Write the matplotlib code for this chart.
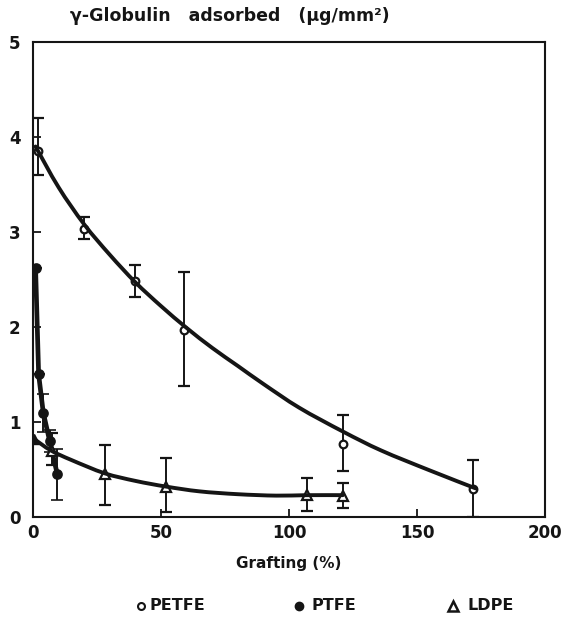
import matplotlib
matplotlib.use("Agg")
import matplotlib.pyplot as plt
from matplotlib.path import Path
from matplotlib.patches import PathPatch
import numpy as np

# PETFE (open circles)
petfe_x = [2, 20, 40, 59, 121, 172]
petfe_y = [3.85, 3.03, 2.48, 1.97, 0.77, 0.29]
petfe_lo = [3.6, 2.93, 2.32, 1.38, 0.48, 0.0]
petfe_hi = [4.2, 3.16, 2.65, 2.58, 1.07, 0.60]
# PETFE fitted curve
petfe_cx = [1, 10, 20, 30, 40, 50, 60, 70, 80, 90, 104, 121, 136, 155, 173]
petfe_cy = [3.90, 3.47, 3.08, 2.76, 2.47, 2.22, 1.99, 1.78, 1.59, 1.40, 1.15, 0.90, 0.70, 0.49, 0.30]

# PTFE (filled circles)
ptfe_x = [1, 2.2, 4, 6.5, 9.5]
ptfe_y = [2.62, 1.50, 1.10, 0.80, 0.45]
ptfe_lo = [2.62, 1.50, 0.90, 0.68, 0.18]
ptfe_hi = [2.62, 1.50, 1.30, 0.92, 0.72]

# LDPE (triangles)
ldpe_x = [0.5, 7.5, 28, 52, 107, 121]
ldpe_y = [0.82, 0.70, 0.45, 0.32, 0.23, 0.22]
ldpe_lo = [0.82, 0.55, 0.13, 0.05, 0.06, 0.10]
ldpe_hi = [0.82, 0.88, 0.76, 0.62, 0.41, 0.36]
ldpe_cx = [0.5, 7, 15, 28, 40, 52, 65, 80, 95, 107, 121]
ldpe_cy = [0.82, 0.70, 0.60, 0.46, 0.38, 0.32, 0.27, 0.24, 0.225, 0.23, 0.23]

x_ticks = [0, 50, 100, 150, 200]
y_ticks = [0, 1, 2, 3, 4, 5]

plt.rcParams['font.family'] = ['DejaVu Sans']
fig = plt.figure(figsize=(5.72, 6.22), dpi=100)
ax = fig.add_axes([0.0577, 0.1688, 0.8953, 0.7637])
ax.set_xlim(0, 200)
ax.set_ylim(0, 5)

k = '#151515'
lw_curve = 2.8


def smooth_curve(xs, ys, lw):
    # Catmull-Rom through the read knots, drawn as cubic Bezier segments in display space
    pts = ax.transData.transform(np.column_stack([xs, ys]))
    n = len(pts)
    verts = [pts[0]]
    codes = [Path.MOVETO]
    for i in range(n - 1):
        p0 = pts[i - 1] if i > 0 else pts[i]
        p1 = pts[i]
        p2 = pts[i + 1]
        p3 = pts[i + 2] if i + 2 < n else pts[i + 1]
        c1 = p1 + (p2 - p0) / 6.0
        c2 = p2 - (p3 - p1) / 6.0
        verts += [c1, c2, p2]
        codes += [Path.CURVE4] * 3
    path = Path(verts, codes)
    patch = PathPatch(path, fill=False, edgecolor=k, lw=lw, capstyle='round',
                      transform=None, zorder=3)
    fig.add_artist(patch)


smooth_curve(petfe_cx, petfe_cy, lw_curve)
smooth_curve(ldpe_cx, ldpe_cy, lw_curve)
ax.plot(ptfe_x, ptfe_y, color=k, lw=lw_curve + 0.6, solid_capstyle='round', zorder=3)


def ebars(xs, ys, lo, hi, marker, mfc, ms, mew):
    yerr = [np.array(ys) - np.array(lo), np.array(hi) - np.array(ys)]
    ax.errorbar(xs, ys, yerr=yerr, fmt=marker, mfc=mfc, mec=k, mew=mew, ms=ms,
                ecolor=k, elinewidth=1.4, capsize=4, capthick=1.4, color=k, zorder=4)


ebars(petfe_x, petfe_y, petfe_lo, petfe_hi, 'o', 'white', 5.5, 1.6)
ebars(ptfe_x, ptfe_y, ptfe_lo, ptfe_hi, 'o', k, 6.5, 1.2)
ebars(ldpe_x[1:], ldpe_y[1:], ldpe_lo[1:], ldpe_hi[1:], '^', 'white', 6.5, 1.6)
ax.plot(ldpe_x[:1], ldpe_y[:1], '^', color=k, ms=7.5, zorder=5)

ax.set_xticks(x_ticks)
ax.set_yticks(y_ticks)
ax.set_xticklabels([str(v) for v in x_ticks])
ax.set_yticklabels([str(v) for v in y_ticks])
ax.tick_params(direction='in', length=6, width=1.3, labelsize=12, colors=k, pad=5)
ax.tick_params(axis='y', pad=9)
for lab in ax.get_xticklabels() + ax.get_yticklabels():
    lab.set_fontweight('bold')
for s in ax.spines.values():
    s.set_linewidth(1.5)
    s.set_color(k)

ax.set_xlabel('Grafting (%)', fontsize=11, color=k, labelpad=10, fontweight='bold')
fig.text(0.123, 0.975, 'γ-Globulin   adsorbed   (μg/mm²)', fontsize=12.5, color=k,
         ha='left', va='center', fontweight='bold')

# legend below
ly = 1 - 606 / 622
fig.lines.append(plt.Line2D([0.247], [ly], marker='o', mfc='white', mec=k, mew=1.5, ms=5,
                            transform=fig.transFigure, color=k))
fig.text(0.262, ly, 'PETFE', fontsize=11.5, color=k, va='center', ha='left', fontweight='bold')
fig.lines.append(plt.Line2D([0.522], [ly], marker='o', color=k, ms=6,
                            transform=fig.transFigure))
fig.text(0.545, ly, 'PTFE', fontsize=11.5, color=k, va='center', ha='left', fontweight='bold')
fig.lines.append(plt.Line2D([0.792], [ly], marker='^', mfc='white', mec=k, mew=1.8, ms=7,
                            transform=fig.transFigure, color=k))
fig.text(0.818, ly, 'LDPE', fontsize=11.5, color=k, va='center', ha='left', fontweight='bold')

fig.savefig('out.png', dpi=100)
